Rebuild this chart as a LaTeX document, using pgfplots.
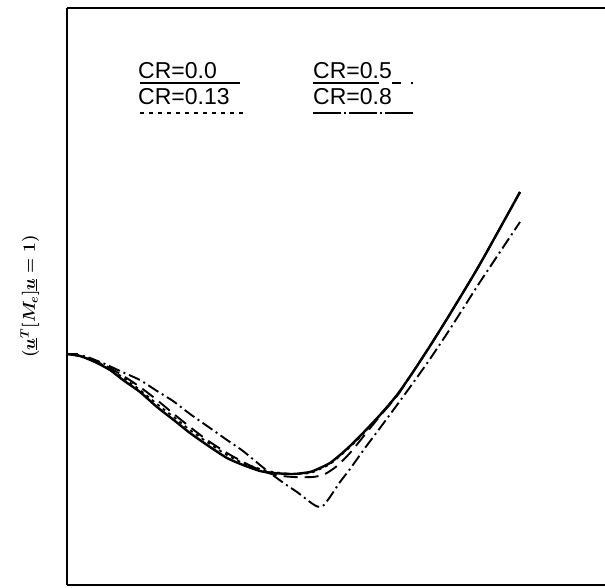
\documentclass[border=0pt]{standalone}
\usepackage{fontspec}
\setmainfont{Liberation Sans}
\usepackage{pgfplots}
\pgfplotsset{compat=1.18}

% Curves for several consistency ratios, x and y in drawing units (1 unit = 1pt)
\begin{document}
\begin{tikzpicture}
\useasboundingbox (-67pt,-3pt) rectangle (538pt,585pt);
\begin{axis}[
  at={(0pt,0pt)}, anchor=south west,
  scale only axis, width=538pt, height=577pt,
  xmin=0, xmax=538, ymin=0, ymax=577,
  axis x line=box, axis y line=left,
  axis line style={-, line width=1.8pt},
  xtick=\empty, ytick={231}, yticklabels={},
  tick align=inside, major tick length=11pt,
  tick style={line width=1.4pt, black},
  ylabel={$(\underline{u}^T[M_e]\underline{u} = 1)$},
  ylabel style={at={(axis description cs:-0.069,0.5)}, anchor=center,
    font={\fontsize{17.5}{21}\selectfont\boldmath}},
  clip=false,
]
% CR = 0.0
\addplot[black, line width=2.4pt, smooth, tension=0.4] coordinates {
(0,231)(13,229)(28,223)(43,215)(56,205)(73,193)(90,178)(108,164)(123,152)
(143,138)(160,127)(176,120)(193,114)(206,112)(226,111)(243,113)(253,117)
(263,122)(273,130)(283,139)(296,152)(313,170)(330,190)(346,213)(363,239)
(383,271)(413,321)(453,393)};
% CR = 0.13
\addplot[black, line width=1.8pt, dash pattern=on 3pt off 4pt, smooth, tension=0.4] coordinates {
(0,231)(13,229)(28,224)(43,216)(58,206)(73,195)(90,181)(108,167)(123,155)
(143,141)(160,130)(176,122)(193,116)(206,113)(226,111)(243,112)(253,116)
(263,121)(273,129)(283,138)(296,151)(313,170)(330,190)(346,213)(363,239)
(383,271)(413,321)(453,393)};
% CR = 0.5
\addplot[black, line width=1.9pt, dash pattern=on 14pt off 7pt, smooth, tension=0.4] coordinates {
(0,231)(13,229)(28,224)(43,217)(58,208)(73,198)(90,185)(108,170)(123,158)
(140,145)(160,132)(178,122)(193,115)(208,110)(226,108)(246,108)(258,111)
(270,119)(283,132)(296,148)(313,169)(330,189)(346,213)(363,239)(383,271)
(413,321)(453,393)};
% CR = 0.8
\addplot[black, line width=1.9pt, dash pattern=on 12pt off 4pt on 2pt off 4pt, smooth, tension=0.3] coordinates {
(0,231)(13,230)(23,227)(38,221)(53,214)(73,205)(90,194)(106,184)(123,171)
(143,157)(160,145)(176,134)(193,120)(203,112)(218,101)(230,93)(243,83)
(249,79)(253,78)(257,80)(263,88)(273,103)(283,116)(298,137)(313,157)
(330,180)(346,202)(363,226)(383,256)(413,303)(453,363)};

% key
\node[anchor=base west, inner sep=0pt, font={\fontsize{23}{27}\selectfont}] at (axis cs:71,506) {CR=0.0};
\draw[line width=1.8pt] (axis cs:73,502) -- (axis cs:173,502);
\node[anchor=base west, inner sep=0pt, font={\fontsize{23}{27}\selectfont}] at (axis cs:71,480) {CR=0.13};
\draw[line width=1.8pt, dash pattern=on 4pt off 5pt] (axis cs:73,472) -- (axis cs:176,472);
\node[anchor=base west, inner sep=0pt, font={\fontsize{23}{27}\selectfont}] at (axis cs:246,506) {CR=0.5};
\draw[line width=1.8pt, dash pattern=on 66pt off 13pt on 9pt off 10pt on 2pt] (axis cs:246,502) -- (axis cs:346,502);
\node[anchor=base west, inner sep=0pt, font={\fontsize{23}{27}\selectfont}] at (axis cs:246,480) {CR=0.8};
\draw[line width=1.8pt, dash pattern=on 28pt off 3pt on 2pt off 3pt] (axis cs:246,472) -- (axis cs:346,472);
\end{axis}
\end{tikzpicture}
\end{document}
